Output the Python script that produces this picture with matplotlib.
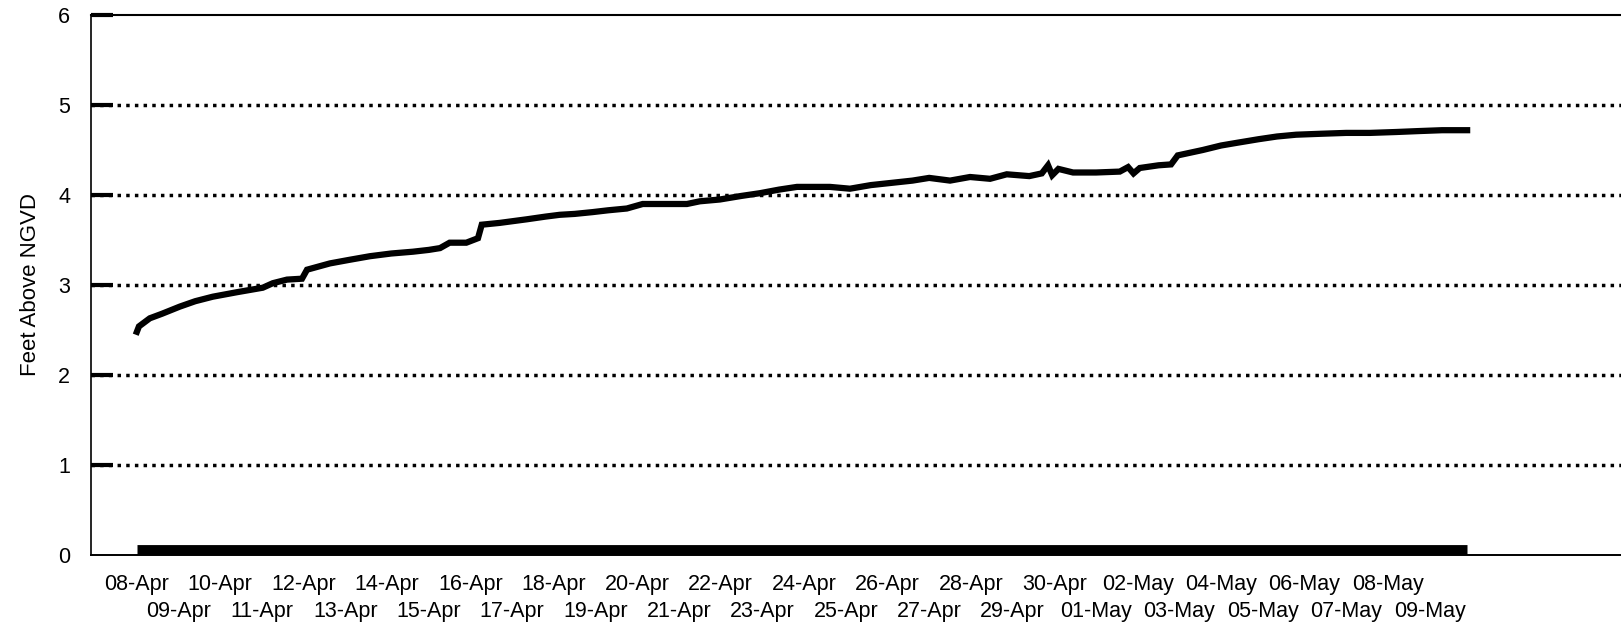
"""
Stage chart - Feet Above NGVD, 08-Apr to 09-May
"""

import numpy as np
import pandas as pd
import matplotlib
matplotlib.use("Agg")
import matplotlib.pyplot as plt
import matplotlib.dates as mdates

plt.rcParams['font.family'] = ['Liberation Sans', 'DejaVu Sans']

START = "2009-04-08"

# stage record: days since 08-Apr 00:00, feet above NGVD
stage_days = [0.00, 0.05, 0.31, 0.60, 1.03, 1.40, 1.82, 2.40, 3.02, 3.26,
              3.60, 3.96, 4.08, 4.63, 5.10, 5.59, 6.10, 6.62, 7.00, 7.27,
              7.50, 7.90, 8.18, 8.27, 8.70, 9.35, 9.80, 10.14, 10.50, 10.93,
              11.30, 11.75, 12.13, 12.70, 13.19, 13.50, 13.98, 14.50, 14.94, 15.40,
              15.83, 16.20, 16.62, 17.10, 17.60, 18.20, 18.60, 19.00, 19.50, 19.98,
              20.46, 20.86, 21.40, 21.70, 21.85, 21.95, 22.10, 22.45, 23.00, 23.57,
              23.77, 23.90, 24.05, 24.50, 24.80, 24.96, 25.56, 26.00, 26.38, 26.90,
              27.34, 27.80, 28.37, 29.00, 29.57, 30.20, 30.72, 31.30, 31.90]
stage_ft = [2.48, 2.54, 2.63, 2.68, 2.76, 2.82, 2.87, 2.92, 2.97, 3.02,
            3.06, 3.07, 3.17, 3.24, 3.28, 3.32, 3.35, 3.37, 3.39, 3.41,
            3.47, 3.47, 3.52, 3.67, 3.69, 3.73, 3.76, 3.78, 3.79, 3.81,
            3.83, 3.85, 3.90, 3.90, 3.90, 3.93, 3.95, 3.99, 4.02, 4.06,
            4.09, 4.09, 4.09, 4.07, 4.11, 4.14, 4.16, 4.19, 4.16, 4.20,
            4.18, 4.23, 4.21, 4.24, 4.33, 4.22, 4.29, 4.25, 4.25, 4.26,
            4.31, 4.24, 4.30, 4.33, 4.34, 4.44, 4.50, 4.55, 4.58, 4.62,
            4.65, 4.67, 4.68, 4.69, 4.69, 4.70, 4.71, 4.72, 4.72]

# second series sitting on the axis floor
base_days = [0.0, 31.9]
base_ft = [0.0, 0.0]

y_ticks = [0, 1, 2, 3, 4, 5, 6]
tick_days = list(range(0, 32))
x_lim_days = [-1.10, 35.59]

t0 = pd.Timestamp(START)
stage_t = t0 + pd.to_timedelta(stage_days, unit="D")
base_t = t0 + pd.to_timedelta(base_days, unit="D")
tick_t = t0 + pd.to_timedelta(tick_days, unit="D")
tick_labels = [t.strftime("%d-%b") for t in tick_t]

fig = plt.figure(figsize=(16.21, 6.23), dpi=100)
ax = fig.add_axes([91 / 1621, 1 - 555 / 623, 1 - 91 / 1621, 540 / 623])

# dotted gridlines
for yv in y_ticks[1:-1]:
    ax.axhline(yv, color='black', lw=2.5, linestyle=(0, (1, 1.5)),
               dash_capstyle='butt', zorder=1)

ax.plot(stage_t, stage_ft, color='black', lw=4.5, solid_joinstyle='miter', zorder=3)
ax.plot(base_t, base_ft, color='black', lw=15, solid_capstyle='butt', zorder=2)

ax.set_ylim(0, 6)
ax.set_xlim(t0 + pd.Timedelta(days=x_lim_days[0]), t0 + pd.Timedelta(days=x_lim_days[1]))

ax.set_yticks(y_ticks)
ax.tick_params(axis='y', direction='in', length=16, width=3, pad=15,
               labelsize=15.5)
ax.yaxis.get_major_ticks()[0].tick1line.set_visible(False)

ax.set_xticks(tick_t[0::2])
ax.set_xticklabels(tick_labels[0::2])
ax.set_xticks(tick_t[1::2], minor=True)
ax.set_xticklabels(tick_labels[1::2], minor=True)
ax.tick_params(axis='x', which='major', length=0, pad=14, labelsize=15.5)
ax.tick_params(axis='x', which='minor', length=0, pad=33, labelsize=15.5)

ax.set_ylabel("Feet Above NGVD", fontsize=16, labelpad=12)

ax.spines['right'].set_visible(False)
ax.spines['top'].set_linewidth(1.5)
ax.spines['left'].set_linewidth(1.2)
ax.spines['bottom'].set_linewidth(1.4)

plt.savefig("out.png", dpi=100)
print("[saved] out.png")
